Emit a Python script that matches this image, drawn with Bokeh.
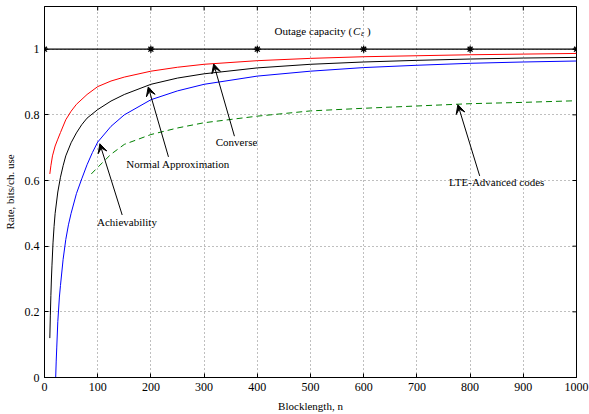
from bokeh.plotting import figure
from bokeh.models import FixedTicker, Range1d, Arrow, VeeHead, Label, CustomJSTickFormatter
from bokeh.embed import file_html
from bokeh.resources import INLINE

# ---------------- data ----------------
x_ticks = [0, 100, 200, 300, 400, 500, 600, 700, 800, 900, 1000]
y_ticks = [0, 0.2, 0.4, 0.6, 0.8, 1.0]

n_conv = [10, 12, 15, 20, 25, 30, 40, 50, 60, 80, 100, 125, 150, 200, 250, 300,
          400, 500, 600, 700, 800, 900, 1000]
r_conv = [0.62, 0.645, 0.675, 0.705, 0.726, 0.746, 0.785, 0.811, 0.832, 0.862, 0.886,
          0.903, 0.915, 0.933, 0.945, 0.954, 0.965, 0.972, 0.977, 0.980, 0.983, 0.985, 0.987]

n_norm = [10, 11, 12, 13, 14, 16, 18, 20, 25, 30, 35, 40, 50, 60, 70, 80, 100, 125, 150,
          200, 250, 300, 400, 500, 600, 700, 800, 900, 1000]
r_norm = [0.12, 0.19, 0.25, 0.30, 0.34, 0.41, 0.46, 0.50, 0.565, 0.61, 0.645, 0.675, 0.715,
          0.745, 0.77, 0.79, 0.816, 0.842, 0.862, 0.893, 0.912, 0.925, 0.943, 0.954,
          0.961, 0.966, 0.970, 0.973, 0.975]

n_ach = [21, 22, 23, 25, 28, 30, 35, 40, 45, 50, 60, 70, 80, 90, 100, 125, 150, 200, 250,
         300, 400, 500, 600, 700, 800, 900, 1000]
r_ach = [0.0, 0.05, 0.09, 0.17, 0.245, 0.28, 0.36, 0.42, 0.465, 0.50, 0.56, 0.605, 0.648,
         0.685, 0.717, 0.765, 0.80, 0.846, 0.873, 0.893, 0.918, 0.933, 0.944, 0.951,
         0.957, 0.961, 0.964]

n_lte = [88, 100, 125, 150, 200, 250, 300, 400, 500, 600, 700, 800, 900, 1000]
r_lte = [0.62, 0.64, 0.68, 0.71, 0.74, 0.76, 0.776, 0.796, 0.812, 0.82, 0.827, 0.834,
         0.838, 0.843]

n_out = [0, 200, 400, 600, 800, 1000]
r_out = [1, 1, 1, 1, 1, 1]

X_MAX = 1000
Y_MAX = 1.13

FONT = "'Liberation Serif', serif"

p = figure(width=589, height=414, output_backend="svg", toolbar_location=None,
           x_range=Range1d(0, X_MAX), y_range=Range1d(0, Y_MAX),
           min_border_left=43, min_border_right=13, min_border_top=6, min_border_bottom=34)
p.background_fill_color = "white"
p.border_fill_color = "white"
p.outline_line_color = "black"
p.outline_line_width = 1
p.outline_line_alpha = 1

fmt = CustomJSTickFormatter(code="return String(Number(tick.toFixed(2)));")

for ax in p.xaxis:
    ax.ticker = FixedTicker(ticks=x_ticks)
    ax.axis_label = "Blocklength, n"
for ax in p.yaxis:
    ax.ticker = FixedTicker(ticks=y_ticks)
    ax.formatter = fmt
    ax.axis_label = "Rate, bits/ch. use"

for ax in p.xaxis + p.yaxis:
    ax.major_tick_in = 4
    ax.major_tick_out = 0
    ax.minor_tick_in = 0
    ax.minor_tick_out = 0
    ax.axis_line_color = "black"
    ax.major_tick_line_color = "black"
    ax.major_label_text_font = FONT
    ax.major_label_text_font_size = "12px"
    ax.major_label_text_color = "black"
    ax.major_label_standoff = 5
    ax.axis_label_text_font = FONT
    ax.axis_label_text_font_size = "11px"
    ax.axis_label_text_font_style = "normal"
    ax.axis_label_text_color = "black"
    ax.axis_label_standoff = 6

p.xgrid.ticker = FixedTicker(ticks=x_ticks)
p.ygrid.ticker = FixedTicker(ticks=y_ticks)
for g in (p.xgrid, p.ygrid):
    g.grid_line_color = "#7f7f7f"
    g.grid_line_dash = "1 3"
    g.grid_line_width = 1

# mirrored inward ticks on the top and right edges (half of each dash is clipped by the frame)
p.scatter(x_ticks, [Y_MAX] * len(x_ticks), marker="dash", angle=1.5708, size=8,
          line_color="black", line_width=1)
p.scatter([X_MAX] * len(y_ticks), y_ticks, marker="dash", size=8,
          line_color="black", line_width=1)

# curves
p.line(n_lte, r_lte, color="#008000", line_width=1, line_dash="6 4")
p.line(n_ach, r_ach, color="blue", line_width=1)
p.line(n_norm, r_norm, color="black", line_width=1)
p.line(n_conv, r_conv, color="red", line_width=1)
p.line(n_out, r_out, color="black", line_width=1.3)
p.scatter(n_out, r_out, marker="asterisk", size=7, line_color="black", line_width=1.3)

# annotations
def lab(x, y, text, **kw):
    p.add_layout(Label(x=x, y=y, text=text, text_font=FONT, text_font_size=kw.pop("size", "11px"),
                       text_align=kw.pop("align", "center"), text_baseline="middle",
                       text_color="black", **kw))

def arr(x0, y0, x1, y1):
    p.add_layout(Arrow(x_start=x0, y_start=y0, x_end=x1, y_end=y1, line_color="black",
                       line_width=1, end=VeeHead(size=9, fill_color="black",
                                                 line_color="black", line_width=1)))

lab(361, 0.718, "Converse")
arr(357, 0.735, 318, 0.955)
lab(251, 0.65, "Normal Approximation")
arr(233, 0.672, 195, 0.885)
lab(155, 0.475, "Achievability")
arr(146, 0.495, 104, 0.712)
lab(850, 0.594, "LTE-Advanced codes")
arr(818, 0.614, 777, 0.831)

# Outage capacity (C_eps)
lab(580, 1.056, "Outage capacity (", align="right", x_offset=-1)
lab(580, 1.056, "C", align="left", text_font_style="italic")
lab(580, 1.056, "\u03b5", align="left", size="8px", text_font_style="italic", x_offset=8, y_offset=-3)
lab(580, 1.056, ")", align="left", x_offset=14)

open("out.html", "w").write(file_html(p, INLINE))
